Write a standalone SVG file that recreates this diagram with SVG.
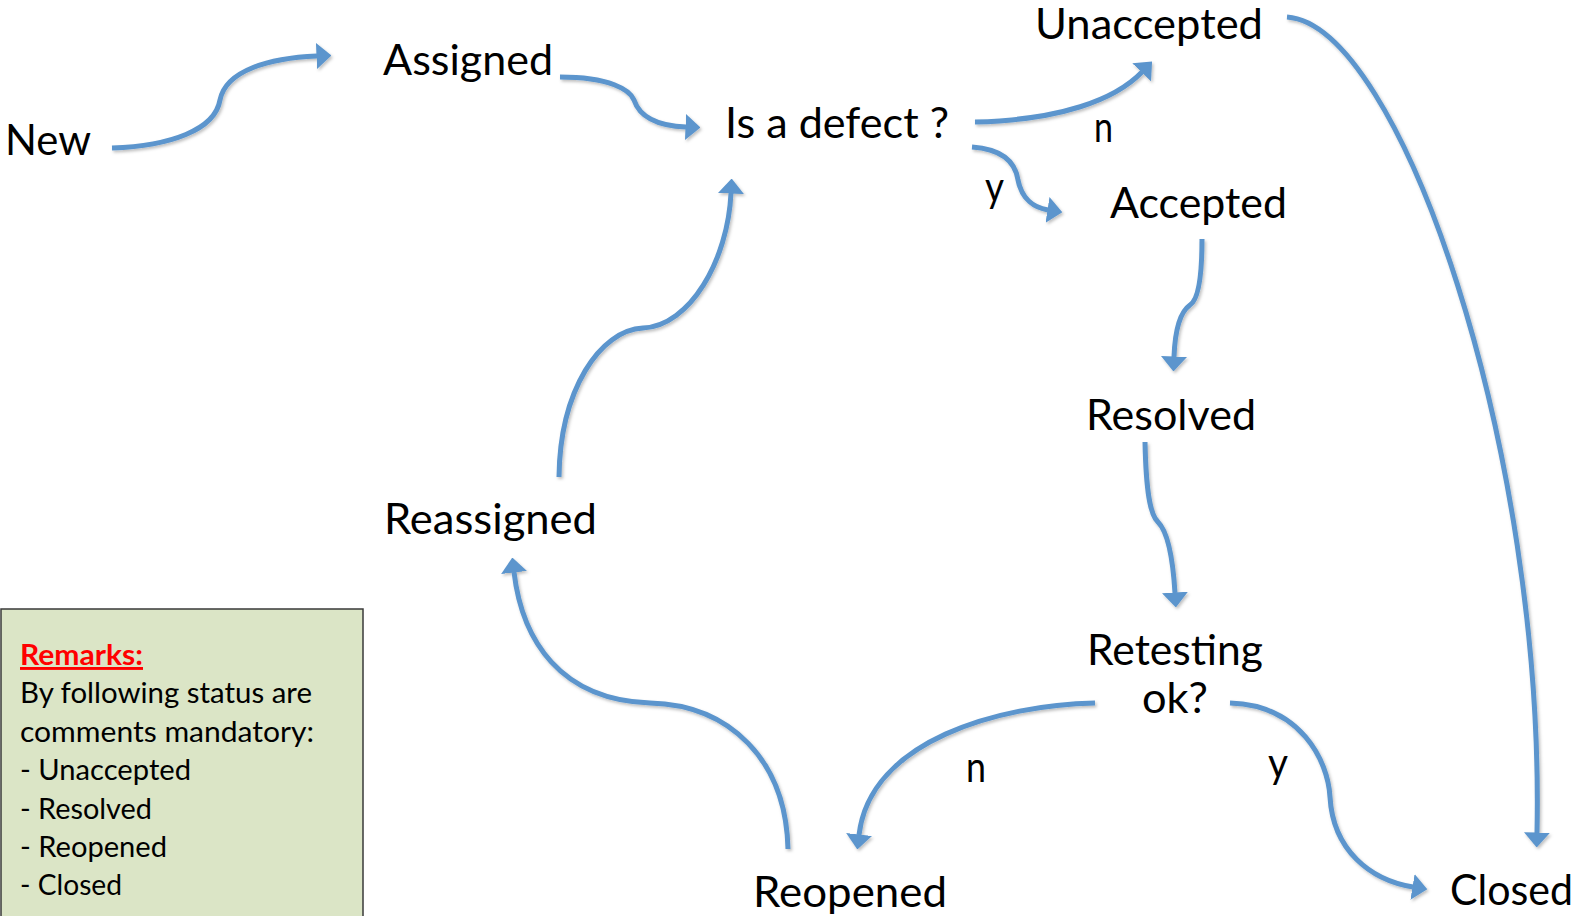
<svg xmlns="http://www.w3.org/2000/svg" width="1579" height="916" viewBox="0 0 1579 916">
<style>
.node{font-family:Lato,"Open Sans","Liberation Sans",sans-serif;font-size:43px;fill:#000}
.lbl{font-family:Lato,"Open Sans","Liberation Sans",sans-serif;font-size:43px;fill:#000}
.rem{font-family:Lato,"Open Sans","Liberation Sans",sans-serif;font-size:29px;fill:#000}
.remh{font-family:Lato,"Open Sans","Liberation Sans",sans-serif;font-size:29px;font-weight:bold;fill:#ff0000;text-decoration:underline}
.conn path{fill:none;stroke:#5b95cd;stroke-width:5;marker-end:url(#ah)}
</style>
<defs>
<marker id="ah" markerUnits="userSpaceOnUse" viewBox="0 0 15 26" refX="0.5" refY="13" markerWidth="15" markerHeight="26" orient="auto">
<path d="M0,0 L15,13 L0,26 Z" fill="#5b95cd"/>
</marker>
<filter id="sh" x="-10%" y="-10%" width="120%" height="120%">
<feDropShadow dx="1.5" dy="2" stdDeviation="1.5" flood-color="#000" flood-opacity="0.25"/>
</filter>
</defs>
<rect width="1579" height="916" fill="#fff"/>

<g id="remarks">
<rect x="1" y="609" width="362" height="320" fill="#dbe5c6" stroke="#3a3a3a" stroke-width="1.5"/>
<text class="remh" x="20" y="665" textLength="123" lengthAdjust="spacingAndGlyphs">Remarks:</text>
<text class="rem" x="20" y="703" textLength="292" lengthAdjust="spacingAndGlyphs">By following status are</text>
<text class="rem" x="20" y="742" textLength="294" lengthAdjust="spacingAndGlyphs">comments mandatory:</text>
<text class="rem" x="20" y="780" textLength="171" lengthAdjust="spacingAndGlyphs">- Unaccepted</text>
<text class="rem" x="20" y="819" textLength="132" lengthAdjust="spacingAndGlyphs">- Resolved</text>
<text class="rem" x="20" y="857" textLength="147" lengthAdjust="spacingAndGlyphs">- Reopened</text>
<text class="rem" x="20" y="895" textLength="102" lengthAdjust="spacingAndGlyphs">- Closed</text>
</g>

<g id="connectors" class="conn" filter="url(#sh)">
<path id="e-new-assigned" d="M112,148 C170,146 215,130 220,100 C226,70 270,58 317,56"/>
<path id="e-assigned-defect" d="M560,77 C610,77 630,90 634,100 C640,118 660,126 686,127"/>
<path id="e-defect-unaccepted" d="M975,122 C1060,120 1115,100 1142,72"/>
<path id="e-defect-accepted" d="M972,147 C1000,149 1015,160 1018,180 C1022,200 1035,208 1048,210"/>
<path id="e-unaccepted-closed" d="M1287,17 C1400,25 1545,450 1537,833"/>
<path id="e-accepted-resolved" d="M1202,239 C1202,280 1198,300 1190,305 C1180,312 1175,330 1174,357"/>
<path id="e-resolved-retesting" d="M1145,442 C1146,490 1150,515 1158,522 C1168,532 1173,560 1175,593"/>
<path id="e-retesting-reopened" d="M1095,703 C1000,705 870,740 859,835"/>
<path id="e-retesting-closed" d="M1230,703 C1300,705 1328,760 1330,797 C1333,850 1370,880 1413,887"/>
<path id="e-reopened-reassigned" d="M788,849 C786,760 730,705 650,703 C560,700 522,640 514,572"/>
<path id="e-reassigned-defect" d="M559,477 C560,390 600,330 643,328 C690,326 728,260 731,193"/>
</g>

<g id="n-new"><text class="node" x="5" y="155" textLength="86" lengthAdjust="spacingAndGlyphs">New</text></g>
<g id="n-assigned"><text class="node" x="383" y="75" textLength="170" lengthAdjust="spacingAndGlyphs">Assigned</text></g>
<g id="n-defect"><text class="node" x="725" y="138" textLength="224" lengthAdjust="spacingAndGlyphs">Is a defect ?</text></g>
<g id="n-unaccepted"><text class="node" x="1035" y="39" textLength="228" lengthAdjust="spacingAndGlyphs">Unaccepted</text></g>
<g id="n-accepted"><text class="node" x="1110" y="218" textLength="177" lengthAdjust="spacingAndGlyphs">Accepted</text></g>
<g id="n-resolved"><text class="node" x="1086" y="430" textLength="170" lengthAdjust="spacingAndGlyphs">Resolved</text></g>
<g id="n-retesting">
<text class="node" x="1087" y="665" textLength="176" lengthAdjust="spacingAndGlyphs">Retesting</text>
<text class="node" x="1142" y="713" textLength="66" lengthAdjust="spacingAndGlyphs">ok?</text>
</g>
<g id="n-reassigned"><text class="node" x="384" y="534" textLength="213" lengthAdjust="spacingAndGlyphs">Reassigned</text></g>
<g id="n-reopened"><text class="node" x="753" y="907" textLength="194" lengthAdjust="spacingAndGlyphs">Reopened</text></g>
<g id="n-closed"><text class="node" x="1450" y="905" textLength="123" lengthAdjust="spacingAndGlyphs">Closed</text></g>

<g id="labels">
<text class="lbl" x="1094" y="142" textLength="19" lengthAdjust="spacingAndGlyphs">n</text>
<text class="lbl" x="985" y="202" textLength="19" lengthAdjust="spacingAndGlyphs">y</text>
<text class="lbl" x="966" y="782" textLength="20" lengthAdjust="spacingAndGlyphs">n</text>
<text class="lbl" x="1268" y="778" textLength="20" lengthAdjust="spacingAndGlyphs">y</text>
</g>
</svg>
